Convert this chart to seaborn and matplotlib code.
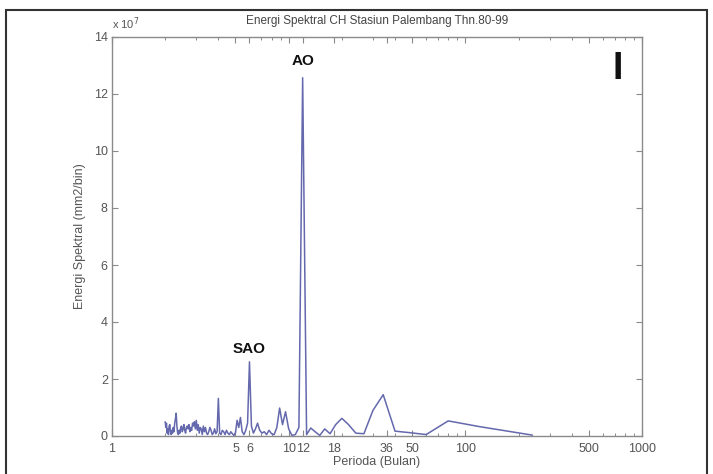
import numpy as np
import pandas as pd
import matplotlib
matplotlib.use("Agg")
import matplotlib.pyplot as plt
import matplotlib.ticker as mticker
from matplotlib.patches import Rectangle
import seaborn as sns

# Monthly rainfall record 1980-1999: 240 months -> harmonics 1..120
n_months = 240
harmonic = np.arange(1, 121)
period_months = n_months / harmonic

# Spectral energy per harmonic (units of 1e7 mm2/bin), harmonic 1 first
energy_1e7 = [
    0.03, 0.33, 0.53, 0.05, 0.12, 0.17, 1.45, 0.90, 0.08, 0.10,
    0.40, 0.62, 0.40, 0.08, 0.25, 0.02, 0.15, 0.28, 0.05, 12.57,
    0.30, 0.05, 0.02, 0.25, 0.85, 0.40, 0.98, 0.30, 0.05, 0.08,
    0.20, 0.05, 0.15, 0.10, 0.20, 0.45, 0.25, 0.10, 0.35, 2.60,
    0.45, 0.20, 0.05, 0.15, 0.65, 0.30, 0.55, 0.12, 0.02, 0.08,
    0.15, 0.05, 0.10, 0.20, 0.05, 0.15, 0.20, 0.05, 0.10, 1.32,
    0.15, 0.08, 0.25, 0.10, 0.05, 0.20, 0.30, 0.15, 0.05, 0.10,
    0.30, 0.15, 0.35, 0.05, 0.25, 0.30, 0.10, 0.40, 0.20, 0.55,
    0.25, 0.50, 0.35, 0.45, 0.20, 0.30, 0.15, 0.40, 0.25, 0.35,
    0.30, 0.10, 0.20, 0.40, 0.25, 0.15, 0.35, 0.30, 0.10, 0.20,
    0.05, 0.10, 0.35, 0.80, 0.60, 0.45, 0.15, 0.30, 0.10, 0.20,
    0.05, 0.15, 0.40, 0.35, 0.05, 0.25, 0.10, 0.45, 0.30, 0.50,
]

x_ticks = [1, 5, 6, 10, 12, 18, 36, 50, 100, 500, 1000]
x_tick_labels = ["1", "5", "6", "10", "12", "18", "36", "50", "100", "500", "1000"]
y_ticks = [0, 2, 4, 6, 8, 10, 12, 14]

peak_labels = ["AO", "SAO"]
peak_periods = [12, 6]
peak_energy = [12.57, 2.60]
peak_gap_pt = [7, 4]

title = "Energi Spektral CH Stasiun Palembang Thn.80-99"
x_label = "Perioda (Bulan)"
y_label = "Energi Spektral (mm2/bin)"

df = pd.DataFrame({"period": period_months, "energy": energy_1e7})

sns.set_style("white")
plt.rcParams["font.family"] = ["Liberation Sans", "DejaVu Sans"]

W, H = 713, 474
fig = plt.figure(figsize=(W / 100, H / 100), dpi=100)
ax = fig.add_axes([112 / W, 1 - 436 / H, (642 - 112) / W, (436 - 37) / H])

sns.lineplot(data=df, x="period", y="energy", ax=ax, color="#6468ad",
             linewidth=1.1, estimator=None, sort=True)

ax.set_xscale("log")
ax.set_xlim(1, 1000)
ax.set_ylim(0, 14)

ax.xaxis.set_major_locator(mticker.FixedLocator(x_ticks))
ax.xaxis.set_major_formatter(mticker.FixedFormatter(x_tick_labels))
ax.xaxis.set_minor_locator(mticker.LogLocator(base=10, subs=np.arange(2, 10)))
ax.xaxis.set_minor_formatter(mticker.NullFormatter())
ax.set_yticks(y_ticks)
ax.set_yticklabels([str(v) for v in y_ticks])

tick_grey = "#555555"
ax.tick_params(axis="both", which="major", direction="in", length=4, width=0.8,
               colors="#8a8a8a", labelcolor=tick_grey, labelsize=9,
               top=True, right=True, bottom=True, left=True)
ax.tick_params(axis="x", which="minor", direction="in", length=2.5, width=0.7,
               colors="#8a8a8a", top=True, bottom=True)
ax.tick_params(axis="x", which="major", pad=5)
ax.tick_params(axis="y", which="major", pad=3)

for side in ax.spines.values():
    side.set_visible(True)
    side.set_color("#8a8a8a")
    side.set_linewidth(1.0)

ax.set_title(title, fontsize=8.5, color="#444444", pad=9)
ax.set_xlabel(x_label, fontsize=9, color="#555555", labelpad=1)
ax.set_ylabel(y_label, fontsize=9, color="#555555", labelpad=6)

# axis multiplier
ax.text(0.0, 1.012, r"x 10$^7$", transform=ax.transAxes, fontsize=8,
        color="#555555", ha="left", va="bottom")

# peak annotations
for name, p, e, gap in zip(peak_labels, peak_periods, peak_energy, peak_gap_pt):
    ax.annotate(name, xy=(p, e), xytext=(0, gap), textcoords="offset points",
                ha="center", va="bottom", fontsize=11, fontweight="bold",
                color="#111111")

# panel marker
ax.text(0.955, 0.92, "I", transform=ax.transAxes, fontsize=27,
        fontweight="bold", ha="center", va="center", color="#111111")

# outer frame around the figure
fig.patches.append(Rectangle((6 / W, -0.05), (707 - 6) / W, 1.05 - 10 / H,
                             transform=fig.transFigure, fill=False,
                             edgecolor="#333333", linewidth=1.5))

fig.savefig("out.png", dpi=100)
